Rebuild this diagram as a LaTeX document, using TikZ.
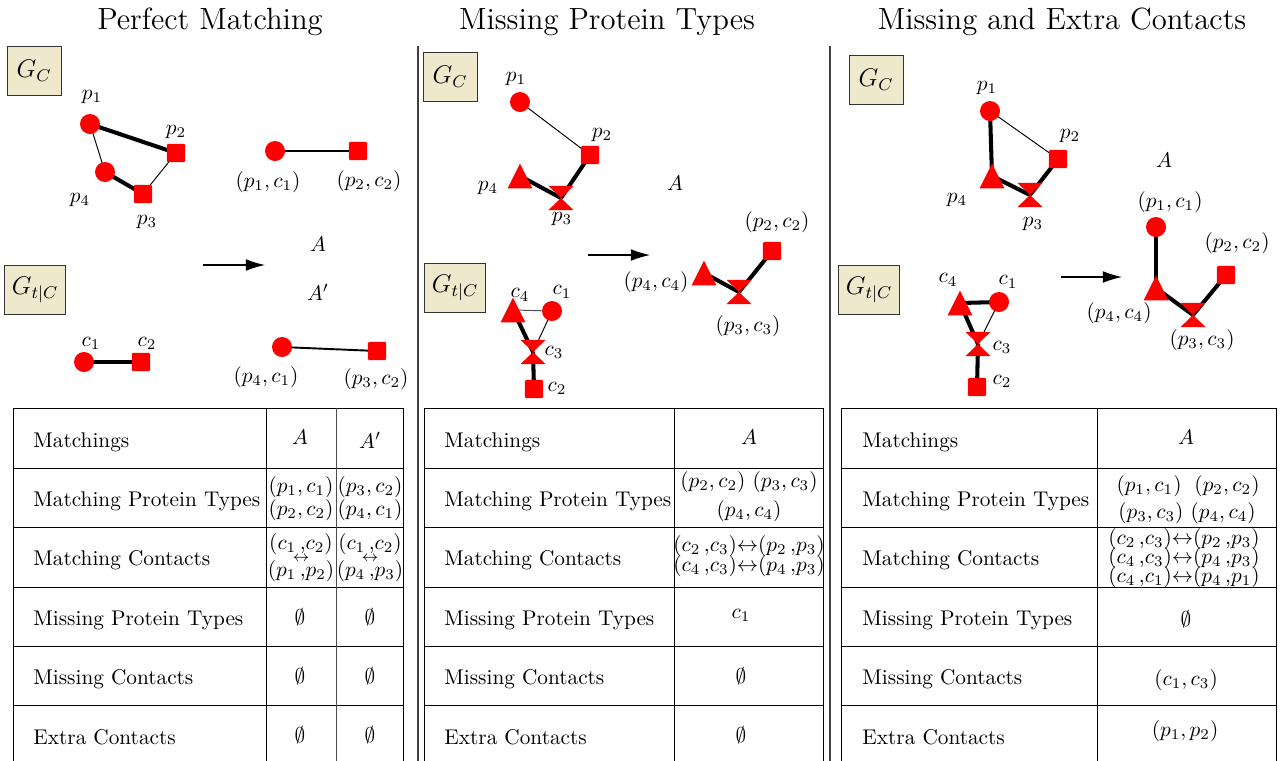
\documentclass[tikz,border=0pt]{standalone}
\usepackage{amsmath,amssymb}
\usetikzlibrary{positioning, arrows.meta, backgrounds}
\definecolor{boxfill}{HTML}{EEE8CD}
\tikzset{
	x=0.47pt, y=-0.47pt,
	circ/.style={circle, fill=red, minimum size=9.4pt, inner sep=0pt},
	sq/.style={rectangle, fill=red, minimum size=8.6pt, inner sep=0pt, rounded corners=0.6pt},
	tri/.style={rectangle, minimum width=11.6pt, minimum height=11.6pt, inner sep=0pt,
		path picture={\fill[red] (path picture bounding box.south west) -- (path picture bounding box.south east)
			-- (path picture bounding box.north) -- cycle;}},
	hglass/.style={rectangle, minimum width=11.8pt, minimum height=11.4pt, inner sep=0pt,
		path picture={\fill[red] (path picture bounding box.north west) -- (path picture bounding box.north east)
			-- (path picture bounding box.south west) -- (path picture bounding box.south east) -- cycle;}},
	gbox/.style={draw=black!80, fill=boxfill, minimum width=25.4pt, minimum height=23.4pt, font=\large},
	strong/.style={line width=1.9pt},
	weak/.style={line width=0.45pt},
	medium/.style={line width=0.9pt},
	arr/.style={-{Latex[length=9pt,width=5.5pt]}, line width=0.5pt},
	tabline/.style={line width=0.45pt},
	lab/.style={inner sep=0pt},
	row/.style={anchor=base west, inner sep=0pt}}

\begin{document}
\begin{tikzpicture}
	\useasboundingbox (0,0) rectangle (1280,760);
	
	% titles and dividers
	\node[lab] (t1) at (210,22) {\Large Perfect Matching};
	\node[lab] (t2) at (607,22) {\Large Missing Protein Types};
	\node[lab] (t3) at (1062,22) {\Large Missing and Extra Contacts};
	\draw[black!75, line width=0.7pt] (418,46) -- (418,770);
	\draw[black!75, line width=0.7pt] (830,46) -- (830,770);
	
	% perfect matching
	\node[gbox] (gc1) at (34,71) {$G_C$};
	\node[gbox] (gt1) at (35,290) {$G_{t|C}$};
	\node[circ] (p1a) at (90,124) {};
	\node[sq] (p2a) at (176,153) {};
	\node[circ] (p4a) at (105,172) {};
	\node[sq] (p3a) at (143,194) {};
	\node[lab] (p1a-l) at (92,97) {$p_1$};
	\node[lab] (p2a-l) at (176,132) {$p_2$};
	\node[lab] (p4a-l) at (80,200) {$p_4$};
	\node[lab] (p3a-l) at (147,222) {$p_3$};
	\node[circ] (c1a) at (84,362) {};
	\node[sq] (c2a) at (141,362) {};
	\node[lab] (c1a-l) at (91,343) {$c_1$};
	\node[lab] (c2a-l) at (147,343) {$c_2$};
	\node[circ] (m1a) at (275,151) {};
	\node[sq] (m2a) at (358,151) {};
	\node[lab] (m1a-l) at (268,182) {$(p_1,c_1)$};
	\node[lab] (m2a-l) at (369,181) {$(p_2,c_2)$};
	\node[lab] (ma) at (318,244) {$A$};
	\node[lab] (mb) at (318,292) {$A'$};
	\node[circ] (n1a) at (282,347) {};
	\node[sq] (n2a) at (377,351) {};
	\node[lab] (n1a-l) at (266,377) {$(p_4,c_1)$};
	\node[lab] (n2a-l) at (376,379) {$(p_3,c_2)$};
	\coordinate (ar1s) at (203,265);
	\coordinate (ar1e) at (265,265);
	\draw[arr] (ar1s) -- (ar1e);
	
	% missing protein types
	\node[gbox] (gc2) at (450,77) {$G_C$};
	\node[gbox] (gt2) at (455,288) {$G_{t|C}$};
	\node[circ] (p1b) at (520,102) {};
	\node[sq] (p2b) at (590,155) {};
	\node[tri] (p4b) at (520,176) {};
	\node[hglass] (p3b) at (561,198) {};
	\node[lab] (p1b-l) at (516,79) {$p_1$};
	\node[lab] (p2b-l) at (602,135) {$p_2$};
	\node[lab] (p4b-l) at (488,188) {$p_4$};
	\node[lab] (p3b-l) at (562,219) {$p_3$};
	\node[tri] (c4b) at (513,310) {};
	\node[circ] (c1b) at (552,311) {};
	\node[hglass] (c3b) at (533,352) {};
	\node[sq] (c2b) at (534,389) {};
	\node[lab] (c4b-l) at (520,295) {$c_4$};
	\node[lab] (c1b-l) at (562,292) {$c_1$};
	\node[lab] (c3b-l) at (554,352) {$c_3$};
	\node[lab] (c2b-l) at (557,388) {$c_2$};
	\node[lab] (mc) at (675,183) {$A$};
	\node[tri] (m4b) at (704,273) {};
	\node[hglass] (m3b) at (739,292) {};
	\node[sq] (m2b) at (772,251) {};
	\node[lab] (m4b-l) at (656,282) {$(p_4,c_4)$};
	\node[lab] (m3b-l) at (748,326) {$(p_3,c_3)$};
	\node[lab] (m2b-l) at (777,222) {$(p_2,c_2)$};
	\coordinate (ar2s) at (588,255);
	\coordinate (ar2e) at (650,255);
	\draw[arr] (ar2s) -- (ar2e);
	
	% missing and extra contacts
	\node[gbox] (gc3) at (876,80) {$G_C$};
	\node[gbox] (gt3) at (869,290) {$G_{t|C}$};
	\node[circ] (p1c) at (990,111) {};
	\node[sq] (p2c) at (1058,159) {};
	\node[tri] (p4c) at (992,176) {};
	\node[hglass] (p3c) at (1030,195) {};
	\node[lab] (p1c-l) at (987,88) {$p_1$};
	\node[lab] (p2c-l) at (1070,136) {$p_2$};
	\node[lab] (p4c-l) at (957,200) {$p_4$};
	\node[lab] (p3c-l) at (1033,224) {$p_3$};
	\node[tri] (c4c) at (960,303) {};
	\node[circ] (c1c) at (999,302) {};
	\node[hglass] (c3c) at (978,344) {};
	\node[sq] (c2c) at (977,387) {};
	\node[lab] (c4c-l) at (948,280) {$c_4$};
	\node[lab] (c1c-l) at (1008,282) {$c_1$};
	\node[lab] (c3c-l) at (1002,347) {$c_3$};
	\node[lab] (c2c-l) at (1002,381) {$c_2$};
	\node[lab] (md) at (1164,160) {$A$};
	\node[circ] (m1c) at (1156,227) {};
	\node[tri] (m4c) at (1156,288) {};
	\node[hglass] (m3c) at (1193,315) {};
	\node[sq] (m2c) at (1226,275) {};
	\node[lab] (m1c-l) at (1170,202) {$(p_1,c_1)$};
	\node[lab] (m2c-l) at (1237,243) {$(p_2,c_2)$};
	\node[lab] (m4c-l) at (1119,313) {$(p_4,c_4)$};
	\node[lab] (m3c-l) at (1202,340) {$(p_3,c_3)$};
	\coordinate (ar3s) at (1061,277);
	\coordinate (ar3e) at (1122,277);
	\draw[arr] (ar3s) -- (ar3e);
	
	\begin{scope}[on background layer]
		\draw[strong] (p1a.center) -- (p2a.center);
		\draw[weak] (p1a.center) -- (p4a.center);
		\draw[strong] (p4a.center) -- (p3a.center);
		\draw[weak] (p3a.center) -- (p2a.center);
		\draw[strong] (c1a.center) -- (c2a.center);
		\draw[medium] (m1a.center) -- (m2a.center);
		\draw[medium] (n1a.center) -- (n2a.center);
		
		\draw[weak] (p1b.center) -- (p2b.center);
		\draw[strong] (p2b.center) -- (p3b.center);
		\draw[strong] (p4b.center) -- (p3b.center);
		\draw[weak, black!70] (c4b.center) -- (c1b.center);
		\draw[weak] (c1b.center) -- (c3b.center);
		\draw[strong] (c4b.center) -- (c3b.center);
		\draw[strong] (c3b.center) -- (c2b.center);
		\draw[strong] (m4b.center) -- (m3b.center);
		\draw[strong] (m3b.center) -- (m2b.center);
		
		\draw[strong] (p1c.center) -- (p4c.center);
		\draw[weak] (p1c.center) -- (p2c.center);
		\draw[strong] (p4c.center) -- (p3c.center);
		\draw[strong] (p3c.center) -- (p2c.center);
		\draw[strong] (c4c.center) -- (c1c.center);
		\draw[weak] (c1c.center) -- (c3c.center);
		\draw[strong] (c4c.center) -- (c3c.center);
		\draw[strong] (c3c.center) -- (c2c.center);
		\draw[strong] (m1c.center) -- (m4c.center);
		\draw[strong] (m4c.center) -- (m3c.center);
		\draw[strong] (m3c.center) -- (m2c.center);
	\end{scope}
	
	% tables
	\foreach \xa/\xb/\xl in {13/403/33, 424/823/444, 841/1276/862}{
		\draw[tabline] (\xa,408) -- (\xb,408);
		\draw[tabline] (\xa,408) -- (\xa,780);
		\draw[tabline] (\xb,408) -- (\xb,780);
		\foreach \y in {468,527,587,646,705}
			\draw[tabline] (\xa,\y) -- (\xb,\y);
		\foreach \t [count=\i] in {Matchings, Matching Protein Types, Matching Contacts,
			Missing Protein Types, Missing Contacts, Extra Contacts}
			\node[row] (r\xl-\i) at (\xl,{447+59.4*(\i-1)}) {\t};
	}
	\draw[tabline] (266,408) -- (266,780);
	\draw[tabline, black!70] (336,408) -- (336,780);
	\draw[tabline] (674,408) -- (674,780);
	\draw[tabline] (1097,408) -- (1097,780);
	
	% values, perfect matching
	\node[lab] (v1a) at (300,437) {$A$};
	\node[lab] (v1b) at (370,440) {$A'$};
	\node[lab] (v2a) at (301,487) {$(p_1,c_1)$};
	\node[lab] (v2b) at (301,510) {$(p_2,c_2)$};
	\node[lab] (v2c) at (370,487) {$(p_3,c_2)$};
	\node[lab] (v2d) at (370,510) {$(p_4,c_1)$};
	\node[lab] (v3a) at (301,544) {$(c_1\,{,}c_2)$};
	\node[lab] (v3b) at (301,559) {$\scriptstyle\leftrightarrow$};
	\node[lab] (v3c) at (301,571) {$(p_1\,{,}p_2)$};
	\node[lab] (v3d) at (370,544) {$(c_1\,{,}c_2)$};
	\node[lab] (v3e) at (370,559) {$\scriptstyle\leftrightarrow$};
	\node[lab] (v3f) at (370,571) {$(p_4\,{,}p_3)$};
	\foreach \y [count=\i from 4] in {617,676,735}{
		\node[lab] (v\i a) at (300,\y) {$\emptyset$};
		\node[lab] (v\i b) at (370,\y) {$\emptyset$};
	}
	
	% values, missing protein types
	\node[lab] (w1) at (749,437) {$A$};
	\node[lab] (w2a) at (749,482) {$(p_2,c_2)$ $(p_3,c_3)$};
	\node[lab] (w2b) at (749,511) {$(p_4,c_4)$};
	\node[lab] (w3a) at (749,546) {$(c_2\,{,}c_3){\leftrightarrow}(p_2\,{,}p_3)$};
	\node[lab] (w3b) at (749,566) {$(c_4\,{,}c_3){\leftrightarrow}(p_4\,{,}p_3)$};
	\node[lab] (w4) at (741,615) {$c_1$};
	\node[lab] (w5) at (741,676) {$\emptyset$};
	\node[lab] (w6) at (741,735) {$\emptyset$};
	
	% values, missing and extra contacts
	\node[lab] (u1) at (1186,437) {$A$};
	\node[lab] (u2a) at (1188,486) {$(p_1,c_1)$\; $(p_2,c_2)$};
	\node[lab] (u2b) at (1187,513) {$(p_3,c_3)$ $(p_4,c_4)$};
	\node[lab] (u3a) at (1184,539) {$(c_2\,{,}c_3){\leftrightarrow}(p_2\,{,}p_3)$};
	\node[lab] (u3b) at (1184,558) {$(c_4\,{,}c_3){\leftrightarrow}(p_4\,{,}p_3)$};
	\node[lab] (u3c) at (1184,577) {$(c_4\,{,}c_1){\leftrightarrow}(p_4\,{,}p_1)$};
	\node[lab] (u4) at (1186,619) {$\emptyset$};
	\node[lab] (u5) at (1186,680) {$(c_1,c_3)$};
	\node[lab] (u6) at (1185,731) {$(p_1,p_2)$};
	
\end{tikzpicture}
\end{document}
